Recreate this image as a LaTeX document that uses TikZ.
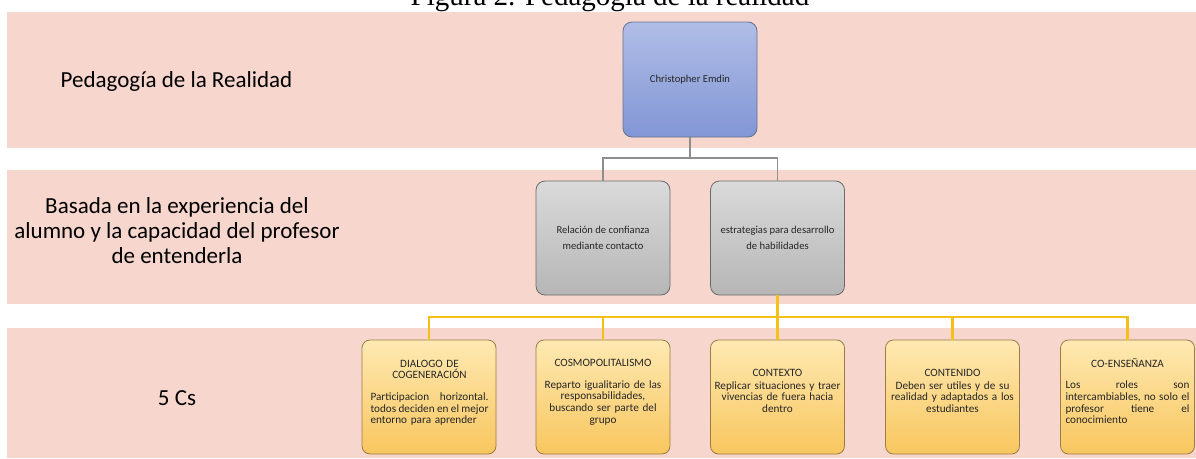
\documentclass[tikz,border=0pt]{standalone}
\usepackage{fontspec}
\setmainfont{Carlito}
\newfontfamily\capfont{Liberation Serif}
\definecolor{bandpink}{HTML}{F7D6CD}
\definecolor{bluetop}{HTML}{B0BDE6}
\definecolor{bluebot}{HTML}{8296D6}
\definecolor{blueedge}{HTML}{65708F}
\definecolor{graytop}{HTML}{DADADA}
\definecolor{graybot}{HTML}{B6B6B6}
\definecolor{grayedge}{HTML}{6A6A6A}
\definecolor{ytop}{HTML}{FEE9B2}
\definecolor{ybot}{HTML}{F8C65E}
\definecolor{yedge}{HTML}{9C7B45}
\definecolor{graylinecol}{HTML}{8E8E8E}
\definecolor{ylinecol}{HTML}{F6C01A}
\hyphenpenalty=10000
\newcommand{\jline}[2]{\leavevmode\hbox to #1{#2}}
\begin{document}
\begin{tikzpicture}[x=1pt,y=-1pt,
  band/.style={fill=bandpink,draw=none},
  lbl/.style={font=\fontsize{23}{25}\selectfont, align=center, text=black, inner sep=0},
  bluebox/.style={draw=blueedge, line width=0.8pt, rounded corners=9pt, top color=bluetop, bottom color=bluebot, minimum width=134pt, minimum height=115pt, inner sep=0, font=\fontsize{10.6}{16}\selectfont, text=black!85},
  graybox/.style={draw=grayedge, line width=0.8pt, rounded corners=9pt, top color=graytop, bottom color=graybot, minimum width=134pt, minimum height=114pt, inner sep=0, align=center, font=\fontsize{10.6}{16.5}\selectfont, text=black!85},
  ybox/.style={draw=yedge, line width=0.8pt, rounded corners=8pt, top color=ytop, bottom color=ybot, minimum width=134pt, minimum height=114pt, inner sep=0},
  ytext/.style={font=\fontsize{11.2}{11.7}\selectfont, align=center, text width=#1, inner sep=0, anchor=base, text=black!85},
  ytext/.default=132pt,
  gline/.style={draw=graylinecol, line width=1.6pt},
  yl/.style={draw=ylinecol, line width=2.2pt}
]
\useasboundingbox (0,0) rectangle (1196,458);
% bands
\fill[band] (7,12) rectangle (1196,148);
\fill[band] (7,170) rectangle (1196,304);
\fill[band] (7,328) rectangle (1196,458);
% caption (partially cut off at the top, as in the reference)
\node[font=\capfont\fontsize{29}{30}\selectfont, anchor=base, inner sep=0] (cap) at (610,5) {Figura 2. Pedagogía de la realidad};
% left labels
\node[lbl, anchor=base] (l1) at (176.5,87) {Pedagogía de la Realidad};
\node[lbl, anchor=base] (l2) at (177,263) {Basada en la experiencia del\\alumno y la capacidad del profesor\\de entenderla};
\node[lbl, anchor=base] (l3) at (177,405) {5 Cs};
% boxes
\node[bluebox] (ce) at (690,79.5) {Christopher Emdin};
\node[graybox] (g1) at (603,238) {Relación de confianza\\mediante contacto};
\node[graybox] (g2) at (777.5,238) {estrategias para desarrollo\\de habilidades};
\node[ybox] (y1) at (429,397) {};
\node[ybox] (y2) at (603,397) {};
\node[ybox] (y3) at (777.5,397) {};
\node[ybox] (y4) at (952.5,397) {};
\node[ybox] (y5) at (1127.5,397) {};
% box texts
\node[ytext=118pt] (t1) at (429.5,367) {DIALOGO DE\\COGENERACIÓN\\[10pt]\jline{118pt}{Participacion\hfill horizontal.}\\\jline{118pt}{todos\hfill deciden\hfill en\hfill el\hfill mejor}\\\jline{118pt}{entorno para aprender\hfill}};
\node[ytext] (t2) at (603,366) {COSMOPOLITALISMO\\[10.5pt]Reparto igualitario de las\\responsabilidades,\\buscando ser parte del\\grupo};
\node[ytext] (t3) at (777.5,376) {CONTEXTO\\[1.5pt]Replicar situaciones y traer\\vivencias de fuera hacia\\dentro};
\node[ytext] (t4) at (952.5,376) {CONTENIDO\\[1.5pt]Deben ser utiles y de su\\realidad y adaptados a los\\estudiantes};
\node[ytext=124pt] (t5) at (1127.5,367) {CO-ENSEÑANZA\\[10pt]\jline{124pt}{Los\hfill roles\hfill son}\\\jline{124pt}{intercambiables,\hfill no\hfill solo\hfill el}\\\jline{124pt}{profesor\hfill tiene\hfill el}\\\jline{124pt}{conocimiento\hfill}};
% connectors
\coordinate (jg) at (690,158);
\draw[gline] (ce.south) -- (jg);
\draw[gline] (g1.north) |- (jg);
\draw[gline] (g2.north) |- (jg);
\coordinate (jy) at (777.5,317);
\draw[yl] (g2.south) -- (jy);
\foreach \i in {1,...,5} {\draw[yl] (y\i.north) |- (jy);}
\end{tikzpicture}
\end{document}
